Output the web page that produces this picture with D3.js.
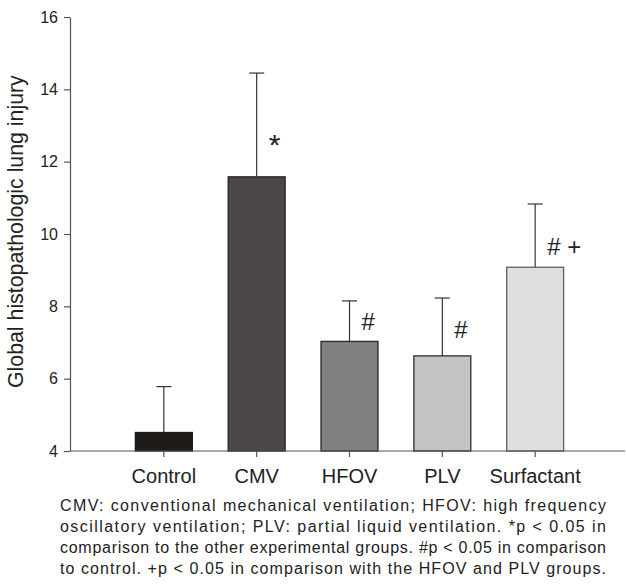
<!DOCTYPE html>
<html>
<head>
<meta charset="utf-8">
<script src="https://cdn.jsdelivr.net/npm/d3@7/dist/d3.min.js"></script>
<style>
  html, body { margin: 0; padding: 0; background: #fff; }
  svg { display: block; font-family: "Liberation Sans", Arial, Helvetica, sans-serif; }
</style>
</head>
<body>
<svg id="chart" width="626" height="585"></svg>
<script>
// ---- data ----
const categories = ["Control", "CMV", "HFOV", "PLV", "Surfactant"];
const means      = [4.51, 11.58, 7.03, 6.63, 9.08];
const upperError = [5.78, 14.45, 8.15, 8.23, 10.83];
const yTicks     = [4, 6, 8, 10, 12, 14, 16];
const annotLabels = ["", "*", "#", "#", "# +"];
const annotValues = [null, 12.18, 7.35, 7.12, 9.42];
const yLabel = "Global histopathologic lung injury";
const captionLines = [
  "CMV: conventional mechanical ventilation; HFOV: high frequency",
  "oscillatory ventilation; PLV: partial liquid ventilation. *p < 0.05 in",
  "comparison to the other experimental groups. #p < 0.05 in comparison",
  "to control. +p < 0.05 in comparison with the HFOV and PLV groups."
];

// ---- styles ----
const fills   = ["#1f1b19", "#4b4746", "#827f7f", "#c4c4c2", "#dfdfdd"];
const strokes = ["#1a1a1a", "#2e2b2a", "#2e2e2e", "#3a3a3a", "#6a6a6a"];

const svg = d3.select("#chart");
const axisX0 = 70, axisX1 = 625;

const x = d3.scaleBand().domain(categories).range([72, 627])
  .paddingInner(0.387).paddingOuter(0.683);
const y = d3.scaleLinear().domain([4, 16]).range([451, 17]);

// y axis
const yAxis = svg.append("g").attr("transform", `translate(${axisX0},0)`)
  .call(d3.axisLeft(y).tickValues(yTicks).tickSize(6).tickPadding(6).tickSizeOuter(0));
yAxis.select(".domain").attr("stroke", "#555").attr("stroke-width", 1.2);
yAxis.selectAll(".tick line").attr("stroke", "#555").attr("stroke-width", 1.2);
yAxis.selectAll(".tick text").attr("font-size", 16).attr("fill", "#222")
  .attr("font-family", "Liberation Sans, Arial, sans-serif");

// y label: starts at the bottom, fitted to the reference's length
const labelBottom = 388, labelTop = 75;
const yl = svg.append("text")
  .attr("transform", `translate(23, ${labelBottom}) rotate(-90)`)
  .attr("text-anchor", "start")
  .attr("font-size", 20).attr("fill", "#222")
  .text(yLabel);
const measured = yl.node().getComputedTextLength();
if (measured > 0) yl.attr("font-size", 20 * (labelBottom - labelTop) / measured);

const data = categories.map((c, i) => ({ c, m: means[i], u: upperError[i], i }));

// error bars (behind bars)
const eb = svg.append("g");
eb.selectAll("line.v").data(data).join("line")
  .attr("x1", d => x(d.c) + x.bandwidth() / 2)
  .attr("x2", d => x(d.c) + x.bandwidth() / 2)
  .attr("y1", d => y(d.m)).attr("y2", d => y(d.u))
  .attr("stroke", "#333").attr("stroke-width", 1.2);
eb.selectAll("line.cap").data(data).join("line")
  .attr("x1", d => x(d.c) + x.bandwidth() / 2 - 7.5)
  .attr("x2", d => x(d.c) + x.bandwidth() / 2 + 7.5)
  .attr("y1", d => y(d.u)).attr("y2", d => y(d.u))
  .attr("stroke", "#333").attr("stroke-width", 1.2);

// bars
svg.append("g").selectAll("rect").data(data).join("rect")
  .attr("x", d => x(d.c)).attr("width", x.bandwidth())
  .attr("y", d => y(d.m)).attr("height", d => y(4) - y(d.m))
  .attr("fill", d => fills[d.i]).attr("stroke", d => strokes[d.i]).attr("stroke-width", 1.4);

// x axis
const xAxis = svg.append("g").attr("transform", `translate(0,${y(4)})`)
  .call(d3.axisBottom(x).tickSize(6).tickPadding(12).tickSizeOuter(0));
xAxis.select(".domain").remove();
xAxis.append("line").attr("x1", axisX0).attr("x2", axisX1).attr("y1", 0).attr("y2", 0)
  .attr("stroke", "#555").attr("stroke-width", 1.2);
xAxis.selectAll(".tick line").attr("stroke", "#555").attr("stroke-width", 1.2);
xAxis.selectAll(".tick text").attr("font-size", 20).attr("fill", "#222")
  .attr("font-family", "Liberation Sans, Arial, sans-serif");

// annotations
svg.append("g").selectAll("text").data(data.filter(d => annotValues[d.i] !== null)).join("text")
  .attr("x", d => x(d.c) + x.bandwidth() / 2 + 12)
  .attr("y", d => y(annotValues[d.i]))
  .attr("font-size", d => annotLabels[d.i] === "*" ? 30 : 24)
  .attr("fill", "#222")
  .text(d => annotLabels[d.i]);

// caption (justified)
const capLeft = 60, capRight = 606;
svg.append("g").selectAll("text").data(captionLines).join("text")
  .attr("x", capLeft)
  .attr("y", (d, i) => 511 + i * 21)
  .attr("font-size", 16).attr("fill", "#222")
  .attr("textLength", capRight - capLeft)
  .attr("lengthAdjust", "spacing")
  .text(d => d);
</script>
</body>
</html>
